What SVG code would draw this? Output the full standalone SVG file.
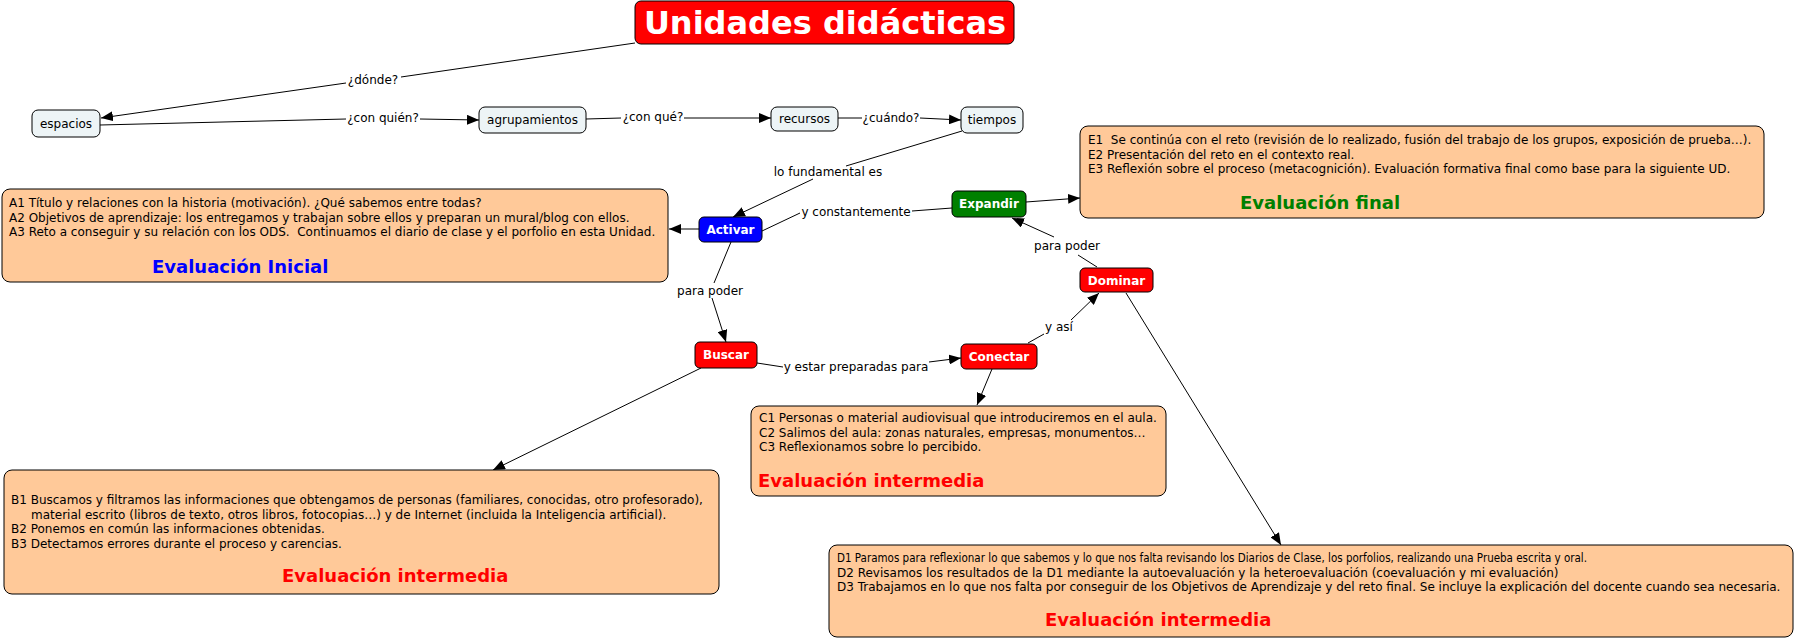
<svg xmlns="http://www.w3.org/2000/svg" width="1796" height="640" viewBox="0 0 1796 640">
<defs>
<marker id="arr" viewBox="0 0 12 10" refX="12" refY="5" markerWidth="12" markerHeight="10" markerUnits="userSpaceOnUse" orient="auto"><path d="M0,0 L12,5 L0,10 z" fill="#000"/></marker>
<style>
text{font-family:"DejaVu Sans",Verdana,sans-serif;}
.n{fill:#edf4f6;stroke:#000;stroke-width:1;}
.nt{font-size:12px;fill:#000;text-anchor:middle;}
.wt{font-size:12px;font-weight:bold;fill:#fff;text-anchor:middle;}
.box{fill:#ffc999;stroke:#000;stroke-width:1;}
.bt{font-size:12px;fill:#000;}
.ev{font-size:18px;font-weight:bold;}
.lk{font-size:12px;fill:#000;text-anchor:middle;}
.c{stroke:#000;stroke-width:1;fill:none;}
.a{marker-end:url(#arr);}
</style>
</defs>
<rect width="1796" height="640" fill="#fff"/>

<g id="connectors">
<line class="c" x1="635" y1="43" x2="401" y2="77"/>
<line class="c a" x1="346" y1="83" x2="101" y2="118"/>
<line class="c" x1="100" y1="125" x2="346" y2="119"/>
<line class="c a" x1="420" y1="119" x2="479" y2="120"/>
<line class="c" x1="586" y1="119" x2="621" y2="118"/>
<line class="c a" x1="684" y1="118" x2="771" y2="118"/>
<line class="c" x1="838" y1="118" x2="862" y2="118"/>
<line class="c a" x1="920" y1="118" x2="961" y2="120"/>
<line class="c" x1="962" y1="131" x2="846" y2="166"/>
<line class="c a" x1="813" y1="179" x2="733" y2="217"/>
<line class="c a" x1="699" y1="229" x2="669" y2="229"/>
<line class="c" x1="762" y1="231" x2="800" y2="213"/>
<line class="c" x1="912" y1="211" x2="952" y2="208"/>
<line class="c a" x1="1026" y1="202" x2="1080" y2="198"/>
<line class="c" x1="731" y1="242" x2="714" y2="283"/>
<line class="c a" x1="712" y1="298" x2="726" y2="342"/>
<line class="c" x1="757" y1="363" x2="783" y2="367"/>
<line class="c a" x1="929" y1="362" x2="961" y2="358"/>
<line class="c" x1="1028" y1="343" x2="1044" y2="334"/>
<line class="c a" x1="1071" y1="320" x2="1099" y2="293"/>
<line class="c" x1="1097" y1="267" x2="1078" y2="255"/>
<line class="c a" x1="1054" y1="237" x2="1012" y2="218"/>
<line class="c a" x1="1126" y1="293" x2="1281" y2="545"/>
<line class="c a" x1="701" y1="368" x2="493" y2="470"/>
<line class="c a" x1="992" y1="369" x2="977" y2="405"/>
<text class="lk" x="373" y="84">¿dónde?</text>
<text class="lk" x="383" y="122">¿con quién?</text>
<text class="lk" x="653" y="121">¿con qué?</text>
<text class="lk" x="891" y="122">¿cuándo?</text>
<text class="lk" x="828" y="176">lo fundamental es</text>
<text class="lk" x="856" y="216">y constantemente</text>
<text class="lk" x="710" y="295">para poder</text>
<text class="lk" x="856" y="371">y estar preparadas para</text>
<text class="lk" x="1059" y="331">y así</text>
<text class="lk" x="1067" y="250">para poder</text>
</g>

<g id="titulo">
<rect x="635" y="1" width="379" height="43" rx="6" fill="#ff0000" stroke="#000"/>
<text x="825" y="34" font-size="32" font-weight="bold" fill="#fff" text-anchor="middle">Unidades didácticas</text>
</g>
<g id="espacios"><rect class="n" x="32" y="110" width="68" height="27" rx="6"/><text class="nt" x="66" y="128">espacios</text></g>
<g id="agrupamientos"><rect class="n" x="479" y="107" width="107" height="26" rx="6"/><text class="nt" x="532.5" y="124">agrupamientos</text></g>
<g id="recursos"><rect class="n" x="771" y="107" width="67" height="24" rx="6"/><text class="nt" x="804.5" y="123">recursos</text></g>
<g id="tiempos"><rect class="n" x="961" y="107" width="62" height="26" rx="6"/><text class="nt" x="992" y="124">tiempos</text></g>

<g id="activar"><rect x="699" y="217" width="63" height="25" rx="5" fill="#0000ff" stroke="#000"/><text class="wt" x="730.5" y="234">Activar</text></g>
<g id="expandir"><rect x="952" y="191" width="74" height="26" rx="5" fill="#008000" stroke="#000"/><text class="wt" x="989" y="208">Expandir</text></g>
<g id="buscar"><rect x="695" y="342" width="62" height="26" rx="5" fill="#ff0000" stroke="#000"/><text class="wt" x="726" y="359">Buscar</text></g>
<g id="conectar"><rect x="961" y="344" width="76" height="25" rx="5" fill="#ff0000" stroke="#000"/><text class="wt" x="999" y="361">Conectar</text></g>
<g id="dominar"><rect x="1080" y="268" width="73" height="24" rx="5" fill="#ff0000" stroke="#000"/><text class="wt" x="1116.5" y="284.5">Dominar</text></g>

<g id="box-a">
<rect class="box" x="2" y="189" width="666" height="93" rx="8"/>
<text class="bt" x="9" y="207">A1 Título y relaciones con la historia (motivación). ¿Qué sabemos entre todas?</text>
<text class="bt" x="9" y="221.5">A2 Objetivos de aprendizaje: los entregamos y trabajan sobre ellos y preparan un mural/blog con ellos.</text>
<text class="bt" x="9" y="236" xml:space="preserve">A3 Reto a conseguir y su relación con los ODS.  Continuamos el diario de clase y el porfolio en esta Unidad.</text>
<text class="ev" x="152" y="273" fill="#0000ff">Evaluación Inicial</text>
</g>

<g id="box-e">
<rect class="box" x="1080" y="126" width="684" height="92" rx="8"/>
<text class="bt" x="1088" y="144" xml:space="preserve">E1  Se continúa con el reto (revisión de lo realizado, fusión del trabajo de los grupos, exposición de prueba…).</text>
<text class="bt" x="1088" y="158.5">E2 Presentación del reto en el contexto real.</text>
<text class="bt" x="1088" y="173">E3 Reflexión sobre el proceso (metacognición). Evaluación formativa final como base para la siguiente UD.</text>
<text class="ev" x="1240" y="209" fill="#008000">Evaluación final</text>
</g>

<g id="box-c">
<rect class="box" x="751" y="406" width="415" height="90" rx="8"/>
<text class="bt" x="759" y="422">C1 Personas o material audiovisual que introduciremos en el aula.</text>
<text class="bt" x="759" y="436.5">C2 Salimos del aula: zonas naturales, empresas, monumentos…</text>
<text class="bt" x="759" y="451">C3 Reflexionamos sobre lo percibido.</text>
<text class="ev" x="758" y="487" fill="#ff0000">Evaluación intermedia</text>
</g>

<g id="box-b">
<rect class="box" x="4" y="470" width="715" height="124" rx="8"/>
<text class="bt" x="11" y="504">B1 Buscamos y filtramos las informaciones que obtengamos de personas (familiares, conocidas, otro profesorado),</text>
<text class="bt" x="31" y="518.5">material escrito (libros de texto, otros libros, fotocopias…) y de Internet (incluida la Inteligencia artificial).</text>
<text class="bt" x="11" y="533">B2 Ponemos en común las informaciones obtenidas.</text>
<text class="bt" x="11" y="547.5">B3 Detectamos errores durante el proceso y carencias.</text>
<text class="ev" x="282" y="582" fill="#ff0000">Evaluación intermedia</text>
</g>

<g id="box-d">
<rect class="box" x="829" y="545" width="964" height="92" rx="8"/>
<text class="bt" x="837" y="562" font-size="11" textLength="750" lengthAdjust="spacingAndGlyphs">D1 Paramos para reflexionar lo que sabemos y lo que nos falta revisando los Diarios de Clase, los porfolios, realizando una Prueba escrita y oral.</text>
<text class="bt" x="837" y="576.5">D2 Revisamos los resultados de la D1 mediante la autoevaluación y la heteroevaluación (coevaluación y mi evaluación)</text>
<text class="bt" x="837" y="591">D3 Trabajamos en lo que nos falta por conseguir de los Objetivos de Aprendizaje y del reto final. Se incluye la explicación del docente cuando sea necesaria.</text>
<text class="ev" x="1045" y="626" fill="#ff0000">Evaluación intermedia</text>
</g>
</svg>
